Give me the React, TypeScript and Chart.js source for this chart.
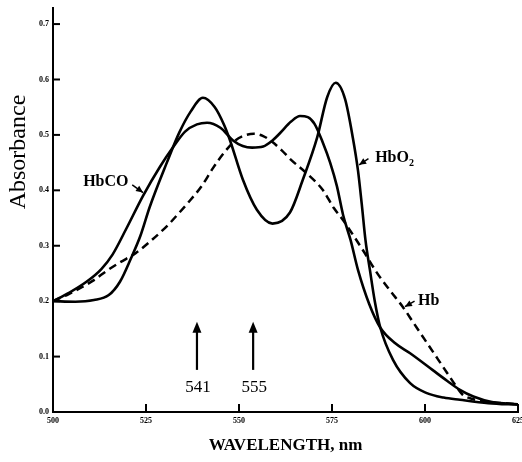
import React, { useEffect, useRef } from "react";
import { Chart, registerables } from "chart.js";

Chart.register(...registerables);

// ---- Axis ticks ----
const xTicks = [500, 525, 550, 575, 600, 625];
const yTicks = [0, 0.1, 0.2, 0.3, 0.4, 0.5, 0.6, 0.7];

// ---- HbO2 (oxyhemoglobin) ----
const hbo2Wavelength = [
  500, 506, 511, 515, 518, 521, 523.5, 526, 530.6, 534, 537, 540.3, 543.5, 546,
  547.6, 551, 554.8, 559, 563.7, 567.2, 571, 573.7, 576, 578.5, 580.6, 582, 583,
  584, 585.2, 586.5, 588, 591.4, 596, 600.5, 605, 609.4, 617, 625,
];
const hbo2Absorbance = [
  0.2, 0.199, 0.202, 0.211, 0.235, 0.278, 0.318, 0.37, 0.45, 0.505, 0.542, 0.567,
  0.55, 0.518, 0.49, 0.42, 0.365, 0.34, 0.36, 0.42, 0.495, 0.568, 0.594, 0.565,
  0.495, 0.435, 0.375, 0.31, 0.256, 0.2, 0.152, 0.094, 0.052, 0.034, 0.026,
  0.022, 0.016, 0.013,
];

// ---- HbCO (carboxyhemoglobin) ----
const hbcoWavelength = [
  500, 504, 509, 513, 516, 519.8, 524.2, 528.8, 532.3, 535.5, 538.7, 541.4, 545,
  548.4, 551, 553.5, 556.5, 559, 561, 564, 566.4, 568.5, 570.3, 572.6, 574.5,
  576.3, 578, 580, 582, 585, 588, 592, 596, 602, 606, 609.4, 613, 618, 625,
];
const hbcoAbsorbance = [
  0.2, 0.214, 0.235, 0.258, 0.284, 0.332, 0.39, 0.443, 0.478, 0.506, 0.519, 0.522,
  0.513, 0.49, 0.48, 0.477, 0.479, 0.49, 0.503, 0.524, 0.534, 0.532, 0.52, 0.485,
  0.45, 0.408, 0.355, 0.31, 0.256, 0.195, 0.152, 0.124, 0.106, 0.076, 0.056, 0.04,
  0.028, 0.018, 0.014,
];

// ---- Hb (deoxyhemoglobin, dashed) ----
const hbWavelength = [
  500, 504, 508, 511, 514.5, 518, 522.3, 526.5, 531, 534, 537, 540, 543, 546, 549,
  551.5, 554, 556.5, 559, 561.5, 564, 568.3, 572.6, 575.5, 578, 580.6, 583.5, 587,
  590.5, 594, 597, 600.5, 603.5, 606, 608, 610, 613, 618, 625,
];
const hbAbsorbance = [
  0.2, 0.212, 0.226, 0.238, 0.255, 0.27, 0.287, 0.31, 0.338, 0.36, 0.383, 0.408,
  0.44, 0.468, 0.49, 0.499, 0.502, 0.498, 0.487, 0.472, 0.455, 0.43, 0.4, 0.368,
  0.346, 0.32, 0.29, 0.252, 0.22, 0.19, 0.16, 0.125, 0.095, 0.07, 0.05, 0.032,
  0.023, 0.018, 0.014,
];

// ---- Marked wavelengths (arrows drawn where they appear in the figure) ----
const markerLabels = ["541", "555"];
const markerWavelengths = [538.7, 553.8];

const toPoints = (xs: number[], ys: number[]) => xs.map((x, i) => ({ x, y: ys[i] }));

const SERIF = '"Liberation Serif", "Times New Roman", serif';

const annotationPlugin = {
  id: "annotations",
  afterDraw(chart: any) {
    const ctx = chart.ctx as CanvasRenderingContext2D;
    const xs = chart.scales.x;
    const ys = chart.scales.y;
    const X = (v: number) => xs.getPixelForValue(v);
    const Y = (v: number) => ys.getPixelForValue(v);

    ctx.save();
    ctx.strokeStyle = "#000";
    ctx.fillStyle = "#000";
    ctx.lineWidth = 2;
    ctx.lineCap = "butt";

    // inward tick marks
    yTicks.forEach((v) => {
      const py = Y(v);
      ctx.beginPath();
      ctx.moveTo(xs.left, py);
      ctx.lineTo(xs.left + 7, py);
      ctx.stroke();
    });
    xTicks.forEach((v) => {
      const px = X(v);
      ctx.beginPath();
      ctx.moveTo(px, ys.bottom);
      ctx.lineTo(px, ys.bottom - 8);
      ctx.stroke();
    });

    // up arrows with wavelengths
    markerWavelengths.forEach((w, i) => {
      const px = X(w);
      const y0 = Y(0.076);
      const y1 = Y(0.163);
      ctx.lineWidth = 2.2;
      ctx.beginPath();
      ctx.moveTo(px, y0);
      ctx.lineTo(px, y1 + 6);
      ctx.stroke();
      ctx.beginPath();
      ctx.moveTo(px, y1);
      ctx.lineTo(px - 4.5, y1 + 11);
      ctx.lineTo(px + 4.5, y1 + 11);
      ctx.closePath();
      ctx.fill();
      ctx.font = `17px ${SERIF}`;
      ctx.textAlign = "center";
      ctx.textBaseline = "middle";
      ctx.fillText(markerLabels[i], px + 1, Y(0.045));
    });

    // small pointer arrows for the curve names
    const pointer = (fx: number, fy: number, tx: number, ty: number) => {
      const ang = Math.atan2(ty - fy, tx - fx);
      const len = 7;
      const wid = 3.2;
      ctx.lineWidth = 1.5;
      ctx.beginPath();
      ctx.moveTo(fx, fy);
      ctx.lineTo(tx, ty);
      ctx.stroke();
      ctx.beginPath();
      ctx.moveTo(tx, ty);
      ctx.lineTo(tx - len * Math.cos(ang) + wid * Math.sin(ang), ty - len * Math.sin(ang) - wid * Math.cos(ang));
      ctx.lineTo(tx - len * Math.cos(ang) - wid * Math.sin(ang), ty - len * Math.sin(ang) + wid * Math.cos(ang));
      ctx.closePath();
      ctx.fill();
    };

    ctx.font = `bold 16px ${SERIF}`;
    ctx.textAlign = "left";
    ctx.textBaseline = "middle";
    // HbCO
    ctx.fillText("HbCO", X(508.1), Y(0.415));
    pointer(X(521.3), Y(0.41), X(524.2), Y(0.396));
    // HbO2
    ctx.fillText("HbO", X(586.6), Y(0.458));
    const wHbO = ctx.measureText("HbO").width;
    ctx.font = `bold 10px ${SERIF}`;
    ctx.fillText("2", X(586.6) + wHbO, Y(0.458) + 5);
    pointer(X(584.8), Y(0.457), X(582.3), Y(0.446));
    // Hb
    ctx.font = `bold 16px ${SERIF}`;
    ctx.fillText("Hb", X(598.1), Y(0.2));
    pointer(X(597.2), Y(0.2), X(594.6), Y(0.19));

    // y-axis title
    ctx.save();
    ctx.translate(25, 152);
    ctx.rotate(-Math.PI / 2);
    ctx.font = `24px ${SERIF}`;
    ctx.textAlign = "center";
    ctx.textBaseline = "alphabetic";
    ctx.fillText("Absorbance", 0, 0);
    ctx.restore();

    ctx.restore();
  },
};

export default function App() {
  const canvasRef = useRef<HTMLCanvasElement | null>(null);

  useEffect(() => {
    if (!canvasRef.current) return;
    const chart = new Chart(canvasRef.current, {
      type: "line",
      data: {
        datasets: [
          {
            label: "Hb",
            data: toPoints(hbWavelength, hbAbsorbance),
            borderColor: "#000",
            borderWidth: 2.5,
            borderDash: [8, 5],
            pointRadius: 0,
            fill: false,
            cubicInterpolationMode: "monotone",
          },
          {
            label: "HbCO",
            data: toPoints(hbcoWavelength, hbcoAbsorbance),
            borderColor: "#000",
            borderWidth: 2.6,
            pointRadius: 0,
            fill: false,
            cubicInterpolationMode: "monotone",
          },
          {
            label: "HbO2",
            data: toPoints(hbo2Wavelength, hbo2Absorbance),
            borderColor: "#000",
            borderWidth: 2.6,
            pointRadius: 0,
            fill: false,
            cubicInterpolationMode: "monotone",
          },
        ],
      },
      options: {
        animation: false,
        responsive: false,
        devicePixelRatio: 1,
        layout: { padding: { top: 8, right: 4, bottom: 0, left: 0 } },
        plugins: {
          legend: { display: false },
          tooltip: { enabled: false },
        },
        scales: {
          x: {
            type: "linear",
            min: 500,
            max: 625,
            afterBuildTicks: (s: any) => {
              s.ticks = xTicks.map((v) => ({ value: v }));
            },
            afterFit: (s: any) => {
              s.height = 50;
              s.paddingLeft = 0;
              s.paddingRight = 0;
            },
            grid: { display: false, drawTicks: false },
            border: { display: true, color: "#000", width: 2 },
            ticks: {
              autoSkip: false,
              maxRotation: 0,
              padding: 4,
              color: "#000",
              font: { family: SERIF, size: 8, weight: "bold" },
              callback: (v: any) => String(v),
            },
            title: {
              display: true,
              text: "WAVELENGTH, nm",
              color: "#000",
              font: { family: SERIF, size: 17, weight: "bold" },
              padding: { top: 0, bottom: 6 },
            },
          },
          y: {
            type: "linear",
            min: 0,
            max: 0.729,
            afterBuildTicks: (s: any) => {
              s.ticks = yTicks.map((v) => ({ value: v }));
            },
            afterFit: (s: any) => {
              s.width = 53;
              s.paddingTop = 0;
              s.paddingBottom = 0;
            },
            grid: { display: false, drawTicks: false },
            border: { display: true, color: "#000", width: 2 },
            ticks: {
              padding: 4,
              color: "#000",
              font: { family: SERIF, size: 8, weight: "bold" },
              callback: (v: any) => Number(v).toFixed(1),
            },
          },
        },
      } as any,
      plugins: [annotationPlugin],
    });
    return () => chart.destroy();
  }, []);

  return (
    <div style={{ position: "absolute", left: 0, top: 0, width: 522, height: 462, background: "#fff" }}>
      <canvas ref={canvasRef} width={522} height={462} style={{ display: "block" }} />
    </div>
  );
}
